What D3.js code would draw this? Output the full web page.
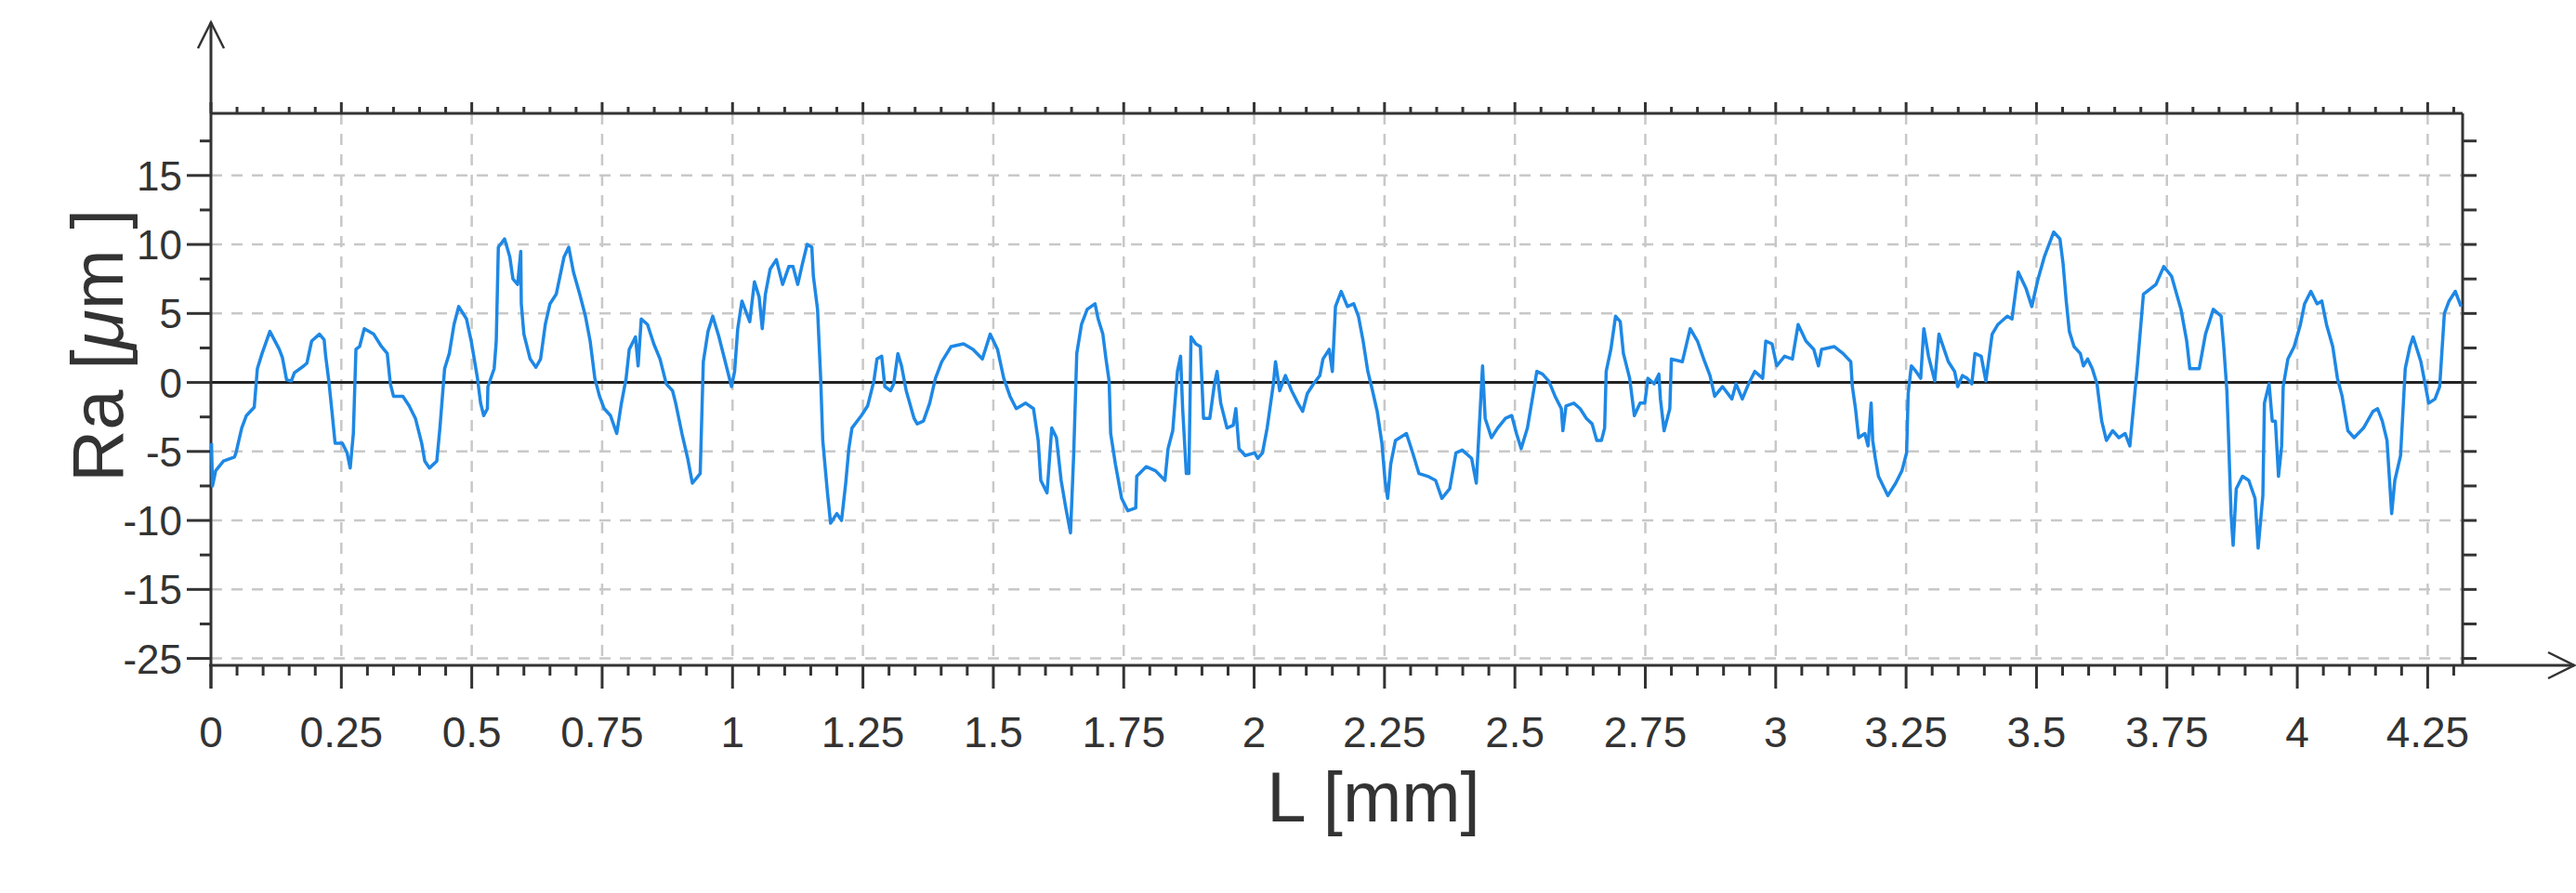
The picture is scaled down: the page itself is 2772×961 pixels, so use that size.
<!DOCTYPE html>
<html><head><meta charset="utf-8">
<script src="https://cdn.jsdelivr.net/npm/d3@7"></script>
<style>body{margin:0;background:#fff}svg{display:block}text{font-family:"Liberation Sans",Arial,sans-serif;fill:#333}</style>
</head><body>
<script>
const lengthMm = [0.001,0.003,0.009,0.024,0.045,0.048,0.059,0.068,0.083,0.089,0.098,0.113,0.131,0.137,0.145,0.154,0.160,0.178,0.184,0.193,0.208,0.217,0.220,0.226,0.232,0.238,0.252,0.261,0.267,0.273,0.278,0.285,0.294,0.312,0.327,0.338,0.344,0.350,0.368,0.380,0.392,0.404,0.410,0.419,0.433,0.439,0.448,0.457,0.466,0.475,0.490,0.499,0.511,0.517,0.523,0.530,0.531,0.543,0.547,0.551,0.563,0.573,0.579,0.588,0.594,0.595,0.600,0.612,0.623,0.632,0.641,0.650,0.662,0.677,0.686,0.695,0.707,0.718,0.727,0.736,0.745,0.754,0.766,0.778,0.787,0.796,0.802,0.814,0.819,0.825,0.837,0.849,0.861,0.873,0.885,
0.891,0.903,0.914,0.923,0.938,0.944,0.953,0.962,0.974,0.986,0.998,1.004,1.010,1.018,1.033,1.042,1.051,1.057,1.063,1.072,1.084,1.096,1.108,1.116,1.125,1.134,1.143,1.152,1.155,1.163,1.169,1.173,1.182,1.188,1.200,1.209,1.217,1.223,1.229,1.247,1.259,1.271,1.277,1.286,1.292,1.303,1.309,1.317,1.324,1.333,1.348,1.354,1.366,1.378,1.389,1.401,1.419,1.443,1.461,1.479,1.494,1.508,1.520,1.532,1.544,1.562,1.577,1.586,1.591,1.603,1.612,1.621,1.630,1.639,1.648,1.654,1.660,1.669,1.680,1.695,1.701,1.710,1.716,1.722,1.725,1.734,1.746,1.758,1.773,
1.775,1.793,1.811,1.829,1.835,1.844,1.853,1.859,1.863,1.870,1.875,1.879,1.888,1.897,1.903,1.915,1.924,1.929,1.936,1.948,1.960,1.965,1.971,1.983,2.001,2.007,2.016,2.025,2.037,2.041,2.049,2.060,2.072,2.084,2.093,2.102,2.114,2.126,2.132,2.144,2.150,2.156,2.167,2.179,2.191,2.200,2.209,2.218,2.227,2.236,2.245,2.251,2.256,2.262,2.271,2.292,2.304,2.316,2.333,2.348,2.360,2.375,2.387,2.399,2.417,2.426,2.432,2.438,2.443,2.455,2.467,2.482,2.494,2.503,2.512,2.524,2.536,2.542,2.553,2.565,2.577,2.589,2.592,2.598,2.613,2.625,2.637,2.648,2.657,
2.666,2.672,2.675,2.684,2.693,2.702,2.708,2.720,2.729,2.740,2.749,2.755,2.767,2.776,2.779,2.786,2.797,2.800,2.821,2.836,2.850,2.862,2.874,2.883,2.898,2.916,2.924,2.936,2.948,2.960,2.975,2.981,2.993,3.002,3.017,3.032,3.043,3.058,3.073,3.082,3.088,3.112,3.129,3.144,3.147,3.153,3.159,3.171,3.177,3.183,3.186,3.191,3.197,3.215,3.230,3.242,3.251,3.254,3.260,3.269,3.278,3.284,3.293,3.305,3.313,3.331,3.343,3.349,3.358,3.367,3.376,3.382,3.394,3.403,3.415,3.426,3.444,3.453,3.465,3.480,3.491,3.503,
3.515,3.533,3.545,3.551,3.557,3.563,3.572,3.584,3.590,3.598,3.607,3.616,3.625,3.634,3.646,3.658,3.670,3.679,3.688,3.693,3.705,3.729,3.744,3.759,3.777,3.788,3.794,3.812,3.824,3.839,3.854,3.859,3.865,3.868,3.873,3.877,3.883,3.895,3.907,3.919,3.925,3.934,3.937,3.946,3.952,3.958,3.964,3.970,3.973,3.982,3.994,4.006,4.014,4.026,4.038,4.047,4.056,4.068,4.077,4.086,4.097,4.109,4.127,4.145,4.154,4.163,4.172,4.181,4.187,4.198,4.207,4.216,4.222,4.237,4.246,4.252,4.264,4.273,4.282,4.291,4.303,4.314];
const raValues = [-4.4,-7.5,-6.4,-5.7,-5.4,-5.1,-3.3,-2.4,-1.8,1.0,2.1,3.7,2.4,1.8,0.2,0.1,0.7,1.2,1.4,3.0,3.5,3.1,1.9,0.1,-2.1,-4.4,-4.4,-5.1,-6.2,-3.7,2.4,2.6,3.9,3.5,2.6,2.1,-0.1,-1.0,-1.0,-1.7,-2.6,-4.4,-5.7,-6.2,-5.7,-3.3,1.0,2.1,4.2,5.5,4.6,3.0,0.3,-1.5,-2.4,-1.9,-0.3,1.0,3.0,9.8,10.4,9.1,7.5,7.1,9.5,5.7,3.5,1.7,1.1,1.7,4.2,5.7,6.4,9.1,9.8,8.0,6.4,4.8,3.0,0.3,-1.0,-1.9,-2.4,-3.7,-1.5,0.3,2.4,3.3,1.2,4.6,4.2,2.8,1.7,-0.1,-0.6,
-1.5,-3.7,-5.5,-7.3,-6.6,1.5,3.7,4.8,3.3,1.5,-0.3,0.8,3.9,5.9,4.4,7.3,6.2,3.9,6.4,8.2,8.9,7.1,8.4,8.4,7.1,8.6,10.0,9.8,7.7,5.3,0.3,-4.2,-8.0,-10.2,-9.5,-10.0,-7.3,-4.8,-3.3,-2.4,-1.7,0.1,1.7,1.9,-0.3,-0.6,-0.1,2.1,1.2,-0.6,-2.6,-3.0,-2.8,-1.5,0.3,1.5,2.6,2.8,2.4,1.7,3.5,2.4,0.3,-1.0,-1.9,-1.5,-1.9,-4.2,-7.1,-8.0,-3.3,-4.0,-7.1,-9.1,-10.9,-5.3,2.1,4.2,5.3,5.7,4.6,3.5,1.7,0.1,-3.7,-5.9,-8.4,-9.3,-9.1,
-6.8,-6.1,-6.4,-7.1,-4.8,-3.5,0.8,1.9,-1.9,-6.6,-6.6,3.3,2.8,2.6,-2.6,-2.6,-0.1,0.8,-1.5,-3.3,-3.1,-1.9,-4.8,-5.3,-5.1,-5.5,-5.1,-3.3,-0.1,1.5,-0.6,0.5,-0.6,-1.5,-2.1,-0.8,-0.1,0.5,1.7,2.4,0.8,5.5,6.6,5.5,5.7,4.8,3.0,0.8,-0.6,-2.1,-4.4,-7.1,-8.4,-5.9,-4.2,-3.7,-5.1,-6.6,-6.8,-7.1,-8.4,-7.7,-5.1,-4.9,-5.5,-7.3,-3.0,1.2,-2.6,-4.0,-3.3,-2.6,-2.4,-3.7,-4.8,-3.3,-0.6,0.8,0.6,0.1,-1.0,-1.9,-3.5,-1.7,-1.5,-1.9,-2.6,-3.0,-4.2,
-4.2,-3.3,0.8,2.4,4.8,4.4,2.1,0.3,-2.4,-1.5,-1.5,0.3,-0.1,0.6,-1.2,-3.5,-1.9,1.7,1.5,3.9,3.0,1.7,0.5,-1.0,-0.3,-1.2,-0.1,-1.2,-0.1,0.8,0.3,3.0,2.8,1.2,1.9,1.7,4.2,3.0,2.4,1.2,2.4,2.6,2.1,1.5,-0.3,-1.9,-4.0,-3.7,-4.6,-1.5,-4.2,-5.5,-6.8,-8.2,-7.3,-6.4,-5.1,-0.8,1.2,0.8,0.3,3.9,1.9,0.1,3.5,1.5,0.8,-0.3,0.5,0.3,-0.1,2.1,1.9,0.1,3.5,4.2,4.8,4.6,8.0,6.8,5.5,7.5,
9.1,10.9,10.4,8.6,5.9,3.7,2.6,2.1,1.2,1.7,1.0,-0.1,-2.8,-4.2,-3.5,-4.0,-3.7,-4.6,-1.0,1.0,6.4,7.1,8.4,7.7,5.3,3.0,1.0,1.0,3.5,5.3,4.8,2.6,-0.6,-3.7,-9.5,-11.8,-7.7,-6.8,-7.1,-8.4,-12.0,-8.2,-1.5,-0.1,-2.8,-2.8,-6.8,-4.6,-0.3,1.7,2.6,4.2,5.7,6.6,5.7,5.9,4.2,2.6,0.3,-1.0,-3.5,-4.0,-3.3,-2.1,-1.9,-2.8,-4.2,-9.5,-7.1,-5.3,1.0,2.6,3.3,1.5,-0.3,-1.5,-1.2,-0.3,5.0,5.9,6.6,5.5];
const xTicks = [0,0.25,0.5,0.75,1,1.25,1.5,1.75,2,2.25,2.5,2.75,3,3.25,3.5,3.75,4,4.25];
const xTickLabels = ["0","0.25","0.5","0.75","1","1.25","1.5","1.75","2","2.25","2.5","2.75","3","3.25","3.5","3.75","4","4.25"];
const yTicks = [-20,-15,-10,-5,0,5,10,15];
const yTickLabels = ["-25","-15","-10","-5","0","5","10","15"];

const W=2772,H=961, L=227, R=2650, T=122, B=716;
const svg=d3.select("body").append("svg").attr("width",W).attr("height",H);
const x=d3.scaleLinear().domain([0,4.317]).range([L,R]);
const y=d3.scaleLinear().domain([-20.5,19.5]).range([B,T]);
const ax="#333";
svg.append("g").selectAll("line").data(xTicks.slice(1)).join("line")
 .attr("x1",d=>x(d)).attr("x2",d=>x(d)).attr("y1",T).attr("y2",B)
 .attr("stroke","#c8c8c8").attr("stroke-width",2.5).attr("stroke-dasharray","12,10");
svg.append("g").selectAll("line").data(yTicks.filter(v=>v!==0)).join("line")
 .attr("x1",L).attr("x2",R).attr("y1",d=>y(d)).attr("y2",d=>y(d))
 .attr("stroke","#c8c8c8").attr("stroke-width",2.5).attr("stroke-dasharray","12,10");
svg.append("line").attr("x1",L).attr("x2",R).attr("y1",y(0)).attr("y2",y(0)).attr("stroke","#222").attr("stroke-width",3);
const minorX=d3.range(0,4.3001,0.05);
const isMaj=v=>Math.abs(v/0.25-Math.round(v/0.25))<1e-6;
svg.append("g").selectAll("line").data(minorX).join("line")
 .attr("x1",d=>x(d)).attr("x2",d=>x(d)).attr("y1",B).attr("y2",d=>B+(isMaj(d)?25:11)).attr("stroke",ax).attr("stroke-width",3);
svg.append("g").selectAll("line").data(minorX).join("line")
 .attr("x1",d=>x(d)).attr("x2",d=>x(d)).attr("y1",T).attr("y2",d=>T-(isMaj(d)?12:7)).attr("stroke",ax).attr("stroke-width",3);
const minorY=d3.range(-20,19.5,2.5);
svg.append("g").selectAll("line").data(minorY).join("line")
 .attr("x1",L).attr("x2",d=>L-(d%5===0?26:12)).attr("y1",d=>y(d)).attr("y2",d=>y(d)).attr("stroke",ax).attr("stroke-width",3);
svg.append("g").selectAll("line").data(minorY).join("line")
 .attr("x1",R).attr("x2",R+15).attr("y1",d=>y(d)).attr("y2",d=>y(d)).attr("stroke",ax).attr("stroke-width",3);
svg.append("line").attr("x1",L).attr("x2",R).attr("y1",T).attr("y2",T).attr("stroke",ax).attr("stroke-width",3);
svg.append("line").attr("x1",R).attr("x2",R).attr("y1",T).attr("y2",B).attr("stroke",ax).attr("stroke-width",3);
svg.append("line").attr("x1",L).attr("x2",L).attr("y1",B+25).attr("y2",24).attr("stroke",ax).attr("stroke-width",3);
svg.append("line").attr("x1",L-2).attr("x2",2770).attr("y1",B).attr("y2",B).attr("stroke",ax).attr("stroke-width",3);
svg.append("path").attr("d",`M${L-14},${52}L${L},${24}L${L+14},${52}`).attr("fill","none").attr("stroke",ax).attr("stroke-width",2.5);
svg.append("path").attr("d",`M2742,${B-14}L2770,${B}L2742,${B+14}`).attr("fill","none").attr("stroke",ax).attr("stroke-width",2.5);
const pts=lengthMm.map((v,i)=>[v,raValues[i]]);
svg.append("path").datum(pts).attr("d",d3.line().x(d=>x(d[0])).y(d=>y(d[1])))
 .attr("fill","none").attr("stroke","#1e88e5").attr("stroke-width",3.5).attr("stroke-linejoin","round");
svg.append("g").selectAll("text").data(xTicks).join("text")
 .attr("x",d=>x(d)).attr("y",804).attr("text-anchor","middle").attr("font-size",46).text((d,i)=>xTickLabels[i]);
svg.append("g").selectAll("text").data(yTicks).join("text")
 .attr("x",196).attr("y",d=>y(d)+16).attr("text-anchor","end").attr("font-size",44).text((d,i)=>yTickLabels[i]);
svg.append("text").attr("x",1478).attr("y",884).attr("text-anchor","middle").attr("font-size",76).text("L [mm]");
const yl=svg.append("text").attr("transform","translate(132,372) rotate(-90)").attr("text-anchor","middle").attr("font-size",78);
yl.append("tspan").text("Ra [");
yl.append("tspan").attr("font-style","italic").text("μ");
yl.append("tspan").text("m ]");
</script>
</body></html>
